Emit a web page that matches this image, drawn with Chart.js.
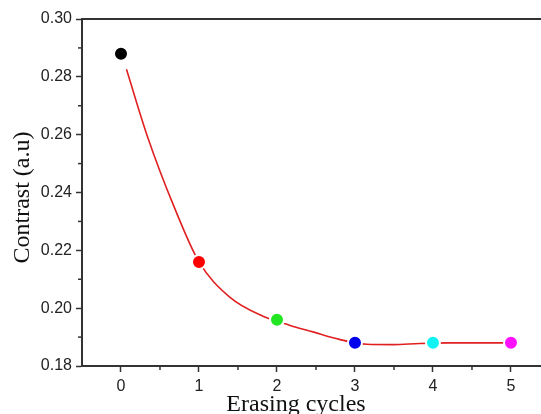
<!DOCTYPE html>
<html>
<head>
<meta charset="utf-8">
<script src="https://cdn.jsdelivr.net/npm/chart.js@4.4.1/dist/chart.umd.min.js"></script>
<style>
	html, body { margin: 0; padding: 0; background: #fff; }
	#contrast_chart { display: block; }
</style>
</head>
<body>
<canvas id="contrast_chart" width="541" height="414"></canvas>
<script>
// valeurs
const cycles = [0, 1, 2, 3, 4, 5];
const contrast = [0.288, 0.216, 0.196, 0.188, 0.188, 0.188];
const dotColors = ['#000000', '#ff0000', '#22e622', '#0000ee', '#11f2f2', '#ff11ff'];

// courbe rouge (fit)
const fitX = [0.07, 0.34, 0.68, 1.0, 1.39, 1.82, 2.16, 2.46, 2.8, 3.15, 3.49, 3.83, 4.2, 5.0];
const fitY = [0.2826, 0.2593, 0.2351, 0.2160, 0.2039, 0.1972, 0.1941, 0.1918, 0.1892, 0.1875, 0.1874, 0.1878, 0.188, 0.188];

const xTicks = [0, 1, 2, 3, 4, 5];
const xMinorTicks = [0.5, 1.5, 2.5, 3.5, 4.5];
const yTicks = [0.18, 0.20, 0.22, 0.24, 0.26, 0.28, 0.30];
const yMinorTicks = [0.19, 0.21, 0.23, 0.25, 0.27, 0.29];

const xTitle = 'Erasing cycles';
const yTitle = 'Contrast (a.u)';

document.addEventListener('DOMContentLoaded', function()
{
	drawChart();
});

// petits traits secondaires + ligne du haut + titres des axes
const axisExtras = {
	id: 'axisExtras',
	afterDraw(chart)
	{
		const ctx = chart.ctx;
		const area = chart.chartArea;
		const xs = chart.scales.x;
		const ys = chart.scales.y;
		ctx.save();
		ctx.strokeStyle = '#333';
		ctx.lineWidth = 1.5;
		xMinorTicks.forEach(v =>
		{
			const px = xs.getPixelForValue(v);
			ctx.beginPath();
			ctx.moveTo(px, area.bottom);
			ctx.lineTo(px, area.bottom + 4);
			ctx.stroke();
		});
		yMinorTicks.forEach(v =>
		{
			const py = ys.getPixelForValue(v);
			ctx.beginPath();
			ctx.moveTo(area.left, py);
			ctx.lineTo(area.left - 4, py);
			ctx.stroke();
		});
		ctx.lineWidth = 2;
		ctx.beginPath();
		ctx.moveTo(area.left - 1, area.top);
		ctx.lineTo(chart.width, area.top);
		ctx.stroke();

		ctx.fillStyle = '#111';
		ctx.font = '24px "Liberation Serif", "Times New Roman", serif';
		ctx.textAlign = 'center';
		ctx.textBaseline = 'alphabetic';
		ctx.fillText(xTitle, 296, 411);

		ctx.translate(29, (area.top + area.bottom) / 2 + 5);
		ctx.rotate(-Math.PI / 2);
		ctx.fillText(yTitle, 0, 0);
		ctx.restore();
	}
};

function drawChart()
{
	const curvePoints = fitX.map((x, i) => ({ x: x, y: fitY[i] }));
	const dots = cycles.map((c, i) => ({ x: c, y: contrast[i] }));

	const data = {
		datasets: [
			{
				type: 'line',
				label: 'fit',
				data: curvePoints,
				borderColor: '#e02020',
				borderWidth: 1.6,
				pointRadius: 0,
				fill: false,
				cubicInterpolationMode: 'monotone',
				order: 2
			},
			{
				type: 'scatter',
				label: 'Contrast',
				data: dots,
				pointRadius: 7,
				pointBackgroundColor: dotColors,
				pointBorderColor: '#ffffff',
				pointBorderWidth: 2,
				order: 1
			}
		]
	};

	const tickFont = { family: '"Liberation Sans", Arial, sans-serif', size: 16 };

	const config = {
		type: 'scatter',
		data: data,
		options: {
			responsive: false,
			animation: false,
			layout: { autoPadding: false, padding: { top: 19, right: 0, left: 0, bottom: 0 } },
			plugins: {
				legend: { display: false },
				tooltip: { enabled: false }
			},
			scales: {
				x: {
					type: 'linear',
					min: -0.5,
					max: 5.385,
					afterBuildTicks: function(scale)
					{
						scale.ticks = xTicks.map(v => ({ value: v }));
					},
					afterFit: function(scale)
					{
						scale.height = 48;
					},
					ticks: {
						color: '#222',
						font: tickFont,
						padding: 5,
						maxRotation: 0,
						callback: v => String(v)
					},
					grid: {
						drawOnChartArea: false,
						drawTicks: true,
						tickLength: 6,
						tickColor: '#333',
						tickWidth: 1.5
					},
					border: { display: true, color: '#333', width: 2 }
				},
				y: {
					type: 'linear',
					min: 0.18,
					max: 0.30,
					afterBuildTicks: function(scale)
					{
						scale.ticks = yTicks.map(v => ({ value: v }));
					},
					afterFit: function(scale)
					{
						scale.width = 82;
					},
					ticks: {
						color: '#222',
						font: tickFont,
						padding: 4,
						callback: v => v.toFixed(2)
					},
					grid: {
						drawOnChartArea: false,
						drawTicks: true,
						tickLength: 6,
						tickColor: '#333',
						tickWidth: 1.5
					},
					border: { display: true, color: '#333', width: 2 }
				}
			}
		},
		plugins: [axisExtras]
	};

	const ctx = document.getElementById('contrast_chart').getContext('2d');
	new Chart(ctx, config);
}
</script>
</body>
</html>
